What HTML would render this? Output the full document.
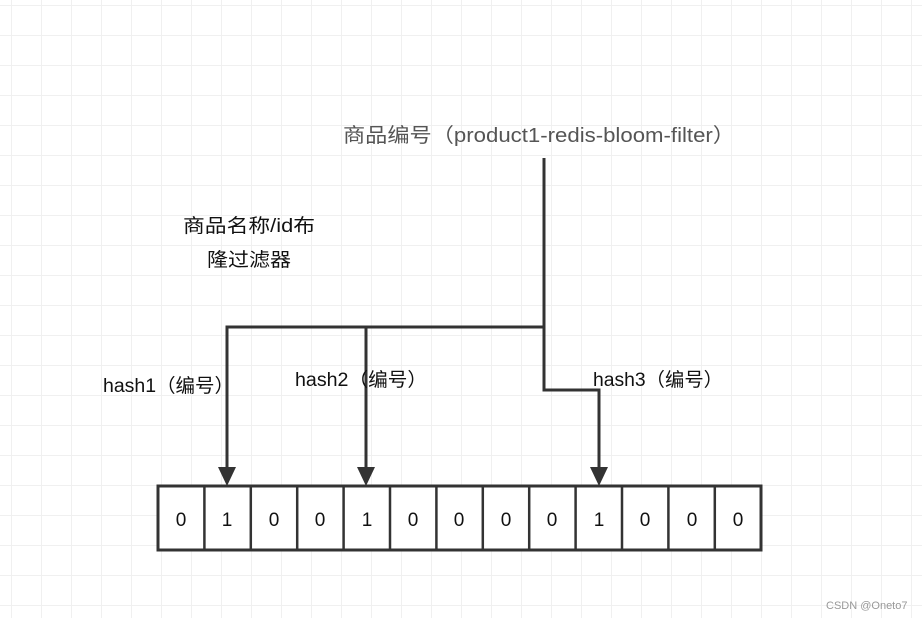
<!DOCTYPE html>
<html><head><meta charset="utf-8"><style>
html,body{margin:0;padding:0;background:#fff;}
svg{display:block;}
text{font-family:"Liberation Sans","Noto Sans CJK SC",sans-serif;}
</style></head><body>
<svg width="922" height="618" viewBox="0 0 922 618" xmlns="http://www.w3.org/2000/svg">
<defs>
<pattern id="g" x="11" y="5" width="30" height="30" patternUnits="userSpaceOnUse">
<path d="M0 0H30M0 0V30" stroke="#f0f0f0" stroke-width="2" fill="none"/>
</pattern>
</defs>
<rect width="922" height="618" fill="url(#g)"/>
<g stroke="#333" stroke-width="3" fill="none">
<path d="M544 158V327H227V468"/>
<path d="M366 327V468"/>
<path d="M544 327V390H599V468"/>
</g>
<g fill="#333">
<polygon points="218,467 236,467 227,486"/>
<polygon points="357,467 375,467 366,486"/>
<polygon points="590,467 608,467 599,486"/>
</g>
<g stroke="#333" stroke-width="3" fill="#fff">
<rect x="158" y="486" width="603" height="64"/>
</g>
<g stroke="#333" stroke-width="2.5">
<line x1="204.4" y1="486" x2="204.4" y2="550"/>
<line x1="250.8" y1="486" x2="250.8" y2="550"/>
<line x1="297.2" y1="486" x2="297.2" y2="550"/>
<line x1="343.6" y1="486" x2="343.6" y2="550"/>
<line x1="390" y1="486" x2="390" y2="550"/>
<line x1="436.4" y1="486" x2="436.4" y2="550"/>
<line x1="482.8" y1="486" x2="482.8" y2="550"/>
<line x1="529.2" y1="486" x2="529.2" y2="550"/>
<line x1="575.6" y1="486" x2="575.6" y2="550"/>
<line x1="622" y1="486" x2="622" y2="550"/>
<line x1="668.4" y1="486" x2="668.4" y2="550"/>
<line x1="714.8" y1="486" x2="714.8" y2="550"/>
</g>
<g font-size="19" fill="#111" text-anchor="middle">
<text x="181" y="526">0</text><text x="227" y="526">1</text><text x="274" y="526">0</text>
<text x="320" y="526">0</text><text x="367" y="526">1</text><text x="413" y="526">0</text>
<text x="459" y="526">0</text><text x="506" y="526">0</text><text x="552" y="526">0</text>
<text x="599" y="526">1</text><text x="645" y="526">0</text><text x="692" y="526">0</text>
<text x="738" y="526">0</text>
</g>
<text x="343" y="142" font-size="20" fill="#555" textLength="392" lengthAdjust="spacingAndGlyphs">商品编号（product1-redis-bloom-filter）</text>
<text x="183" y="232" font-size="19" fill="#111" textLength="132" lengthAdjust="spacingAndGlyphs">商品名称/id布</text>
<text x="207" y="266" font-size="19" fill="#111" textLength="84" lengthAdjust="spacingAndGlyphs">隆过滤器</text>
<text x="103" y="392" font-size="19" fill="#111" textLength="131" lengthAdjust="spacingAndGlyphs">hash1（编号）</text>
<text x="295" y="386" font-size="19" fill="#111" textLength="132" lengthAdjust="spacingAndGlyphs">hash2（编号）</text>
<text x="593" y="386" font-size="19" fill="#111" textLength="130" lengthAdjust="spacingAndGlyphs">hash3（编号）</text>
<text x="826" y="609" font-size="11" fill="#999">CSDN @Oneto7</text>
</svg>
</body></html>
